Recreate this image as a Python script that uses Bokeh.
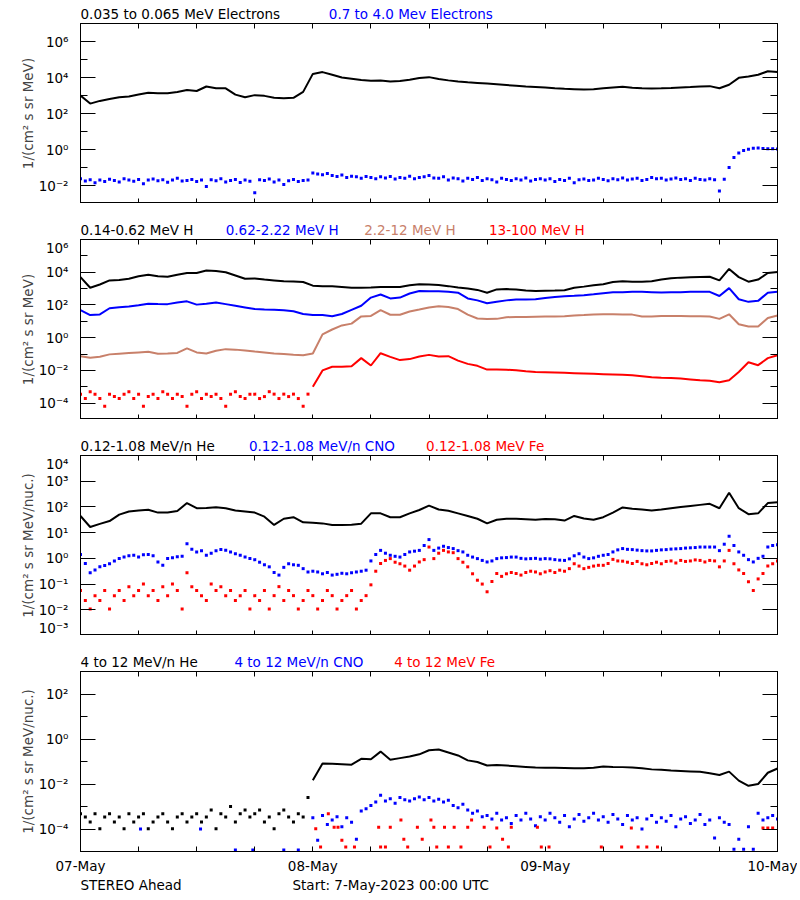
import numpy as np
from bokeh.plotting import figure
from bokeh.layouts import column
from bokeh.models import (Range1d, LinearAxis, LogAxis, FixedTicker, CustomJSTickFormatter, ColumnDataSource)
from bokeh.core.properties import value
from bokeh.embed import file_html
from bokeh.resources import INLINE

FONT = "DejaVu Sans"
FS = "13.5px"
BLACK, BLUE, BROWN, RED = "#000000", "#0000ff", "#c8806a", "#ff0000"

# ---------------- time axes (hours since 7-May-2023 00:00 UTC) ----------------
t_hr = np.arange(0, 73)              # hourly samples 0..72 h
t_half = np.arange(0, 145) * 0.5     # half-hourly samples 0..72 h
t_half_pre = np.arange(0, 48) * 0.5  # half-hourly 0..23.5 h
t_hr_post = np.arange(24, 73)        # hourly 24..72 h
t_half_post = 24 + np.arange(0, 97) * 0.5  # half-hourly 24..72 h

day_ticks = [0, 24, 48, 72]
day_labels = ["07-May", "08-May", "09-May", "10-May"]
six_hour_ticks = [6, 12, 18, 30, 36, 42, 54, 60, 66]

# ---------------- Panel 1: electrons (log10 flux) ----------------
elec_035_065_log = [
    3.0, 2.55, 2.7, 2.8, 2.9, 2.95, 3.05, 3.15, 3.12, 3.13, 3.2, 3.3,
    3.25, 3.5, 3.4, 3.4, 3.05, 2.9, 3.02, 2.98, 2.88, 2.85, 2.87, 3.2,
    4.2, 4.3, 4.15, 4.0, 3.93, 3.86, 3.82, 3.83, 3.78, 3.8, 3.88, 3.97,
    4.02, 3.92, 3.84, 3.78, 3.73, 3.7, 3.66, 3.62, 3.58, 3.54, 3.5, 3.47,
    3.44, 3.4, 3.37, 3.35, 3.33, 3.35, 3.4, 3.45, 3.48, 3.43, 3.4, 3.39,
    3.4, 3.42, 3.45, 3.47, 3.5, 3.52, 3.4, 3.6, 3.98, 4.05, 4.15, 4.35,
    4.3]
elec_07_40_log = [
    -1.62, -1.75, -1.68, -1.85, -1.7, -1.78, -1.65, -1.72, -1.8, -1.62, -1.7, -1.76,
    -1.66, -1.9, -1.7, -1.64, -1.74, -1.68, -1.82, -1.7, -1.6, -1.75, -1.72, -1.66,
    -1.78, -1.7, -2.05, -1.68, -1.74, -1.62, -1.8, -1.72, -1.66, -1.84, -1.7, -1.76,
    -2.4, -1.68, -1.72, -1.64, -1.8, -1.7, -1.95, -1.74, -1.66, -1.78, -1.72, -1.7,
    -1.3, -1.36, -1.4, -1.34, -1.45, -1.5, -1.42, -1.55, -1.48, -1.52, -1.6, -1.5,
    -1.56, -1.62, -1.52, -1.58, -1.5, -1.64, -1.55, -1.6, -1.48, -1.62, -1.55, -1.52,
    -1.45, -1.58, -1.6, -1.52, -1.7, -1.58, -1.62, -1.75, -1.6, -1.66, -1.55, -1.72,
    -1.62, -1.68, -1.8, -1.6, -1.66, -1.72, -1.62, -1.7, -1.58, -1.75, -1.66, -1.62,
    -1.7, -1.62, -1.78, -1.66, -1.72, -1.6, -1.85, -1.68, -1.64, -1.72, -1.7, -1.6,
    -1.66, -1.74, -1.62, -1.68, -1.58, -1.7, -1.64, -1.6, -1.72, -1.66, -1.56, -1.62,
    -1.6, -1.7, -1.64, -1.58, -1.66, -1.62, -1.72, -1.6, -1.66, -1.7, -1.62, -1.68,
    -2.3, -1.65, -1.0, -0.45, -0.2, -0.06, 0.02, 0.07, 0.08, 0.05, 0.04, 0.04,
    0.03]

# ---------------- Panel 2: protons (log10 flux) ----------------
h_014_062_log = [
    3.7, 3.05, 3.25, 3.5, 3.52, 3.6, 3.75, 3.85, 3.75, 3.72, 3.85, 3.95,
    3.95, 4.1, 4.08, 4.0, 3.8, 3.6, 3.62, 3.55, 3.5, 3.45, 3.43, 3.4,
    3.18, 3.14, 3.14, 3.1, 3.05, 3.05, 3.07, 3.1, 3.1, 3.1, 3.2, 3.27,
    3.25, 3.22, 3.15, 3.06, 3.0, 2.92, 2.75, 2.95, 2.97, 2.95, 2.88, 2.85,
    2.87, 2.88, 2.9, 3.05, 3.12, 3.2, 3.27, 3.4, 3.45, 3.42, 3.42, 3.45,
    3.55, 3.63, 3.67, 3.7, 3.71, 3.72, 3.5, 4.2, 3.7, 3.42, 3.55, 3.95,
    4.02]
h_062_222_log = [
    1.68, 1.38, 1.42, 1.8, 1.86, 1.9, 1.98, 2.08, 2.06, 2.05, 2.15, 2.22,
    2.02, 2.08, 2.15, 2.05, 1.95, 1.85, 1.75, 1.72, 1.7, 1.68, 1.62, 1.45,
    1.38, 1.38, 1.31, 1.45, 1.7, 1.95, 2.45, 2.64, 2.4, 2.45, 2.7, 2.85,
    2.84, 2.83, 2.8, 2.75, 2.4, 2.28, 2.1, 2.2, 2.28, 2.33, 2.33, 2.35,
    2.43, 2.48, 2.53, 2.56, 2.6, 2.65, 2.72, 2.77, 2.78, 2.8, 2.8, 2.78,
    2.76, 2.77, 2.78, 2.8, 2.8, 2.8, 2.55, 3.03, 2.35, 2.19, 2.25, 2.75,
    2.8]
h_22_12_log = [
    -1.13, -1.22, -1.17, -1.02, -0.98, -0.94, -0.9, -0.86, -0.98, -0.97, -0.93, -0.65,
    -0.9, -0.97, -0.8, -0.7, -0.73, -0.78, -0.85, -0.9, -0.96, -1.0, -1.04, -1.07,
    -0.97, 0.2, 0.5, 0.75, 0.86, 1.3, 1.33, 1.68, 1.4, 1.4, 1.6, 1.72,
    1.85, 1.92, 1.88, 1.75, 1.41, 1.17, 1.14, 1.15, 1.25, 1.27, 1.27, 1.28,
    1.29, 1.3, 1.31, 1.35, 1.38, 1.42, 1.43, 1.43, 1.42, 1.41, 1.3, 1.3,
    1.33, 1.32, 1.32, 1.31, 1.31, 1.3, 1.15, 1.43, 0.82, 0.68, 0.68, 1.2,
    1.35]
h_13_100_pre_log = [
    -3.45, -3.72, -3.3, -3.45, -3.72, -4.19, -3.45, -3.6, -3.72, -3.45, -3.3, -3.72,
    -3.45, -4.19, -3.6, -3.45, -3.72, -3.3, -3.45, -3.72, -3.45, -3.6, -4.19, -3.45,
    -3.3, -3.72, -3.45, -3.6, -3.45, -3.72, -4.19, -3.45, -3.3, -3.6, -3.72, -3.45,
    -3.45, -3.72, -3.6, -3.3, -3.45, -3.72, -3.45, -3.6, -3.45, -3.72, -4.19, -3.45]
h_13_100_post_log = [
    -3.0, -2.0, -1.78, -1.78, -1.75, -1.25, -1.7, -0.95, -1.17, -1.37, -1.31, -1.15,
    -1.05, -1.15, -1.13, -1.4, -1.6, -1.72, -1.95, -1.95, -1.96, -1.99, -2.05, -2.09,
    -2.11, -2.13, -2.15, -2.17, -2.19, -2.21, -2.23, -2.25, -2.27, -2.29, -2.35, -2.42,
    -2.45, -2.47, -2.5, -2.55, -2.6, -2.63, -2.72, -2.6, -2.1, -1.5, -1.68, -1.25,
    -1.07]

# ---------------- Panel 3: 0.12-1.08 MeV/n ions (log10 flux) ----------------
he_low_log = [
    1.65, 1.22, 1.34, 1.45, 1.7, 1.82, 1.86, 1.89, 1.78, 1.78, 1.84, 2.15,
    1.95, 1.96, 1.99, 1.95, 1.86, 1.82, 1.78, 1.62, 1.3, 1.54, 1.6, 1.4,
    1.38, 1.36, 1.3, 1.3, 1.31, 1.35, 1.75, 1.75, 1.6, 1.6, 1.75, 1.88,
    2.05, 1.9, 1.85, 1.75, 1.65, 1.54, 1.36, 1.5, 1.54, 1.54, 1.52, 1.5,
    1.53, 1.52, 1.47, 1.65, 1.55, 1.5, 1.6, 1.78, 1.98, 1.93, 1.9, 1.86,
    1.9, 1.95, 2.0, 2.04, 2.08, 2.12, 1.95, 2.55, 1.95, 1.72, 1.75, 2.15,
    2.18]
cno_low_log = [
    0.15, -0.2, -0.56, -0.45, -0.33, -0.28, -0.21, -0.1, -0.01, 0.05, 0.1, 0.12,
    0.05, 0.14, 0.15, 0.1, -0.14, -0.27, -0.01, 0.02, 0.06, 0.08, 0.57, 0.35,
    0.25, 0.3, 0.12, 0.2, 0.3, 0.34, 0.32, 0.25, 0.18, 0.12, 0.05, -0.01,
    -0.05, -0.15, -0.25, -0.33, -0.55, -0.65, -0.35, -0.21, -0.25, -0.27, -0.4, -0.53,
    -0.5, -0.53, -0.6, -0.55, -0.65, -0.62, -0.58, -0.6, -0.56, -0.53, -0.5, -0.46,
    -0.1, 0.15, 0.31, 0.2, 0.12, 0.08, 0.05, 0.15, 0.25, 0.28, 0.31, 0.5,
    0.73, 0.31, 0.4, 0.47, 0.42, 0.38, 0.3, 0.25, 0.12, 0.05, -0.01, -0.08,
    -0.14, -0.1, -0.01, 0.02, 0.03, 0.05, 0.05, 0.0, -0.02, -0.01, 0.0, -0.03,
    -0.01, -0.02, -0.05, -0.07, -0.08, -0.02, 0.1, 0.18, 0.05, -0.01, 0.02, 0.08,
    0.12, 0.15, 0.25, 0.33, 0.38, 0.35, 0.34, 0.32, 0.3, 0.29, 0.29, 0.31,
    0.33, 0.34, 0.36, 0.37, 0.38, 0.4, 0.41, 0.42, 0.44, 0.44, 0.44, 0.44,
    0.3, 0.55, 0.86, 0.5, 0.25, 0.12, -0.05, -0.14, 0.0, 0.08, 0.44, 0.5,
    0.53]
fe_low_log = [
    -1.25, -1.64, -1.97, -1.45, -1.64, -1.25, -1.97, -1.45, -1.25, -1.64, -1.1, -1.45,
    -1.25, -1.0, -1.45, -1.25, -1.64, -1.1, -1.45, -1.0, -1.25, -1.97, -0.56, -1.1,
    -1.25, -1.45, -1.64, -1.0, -1.25, -1.1, -1.45, -1.25, -1.64, -1.45, -1.25, -1.97,
    -1.45, -1.64, -1.25, -1.97, -1.45, -1.1, -1.64, -1.25, -1.45, -1.97, -1.64, -1.25,
    -1.45, -1.97, -1.64, -1.25, -1.45, -1.97, -1.64, -1.45, -1.25, -1.97, -1.64, -1.45,
    -1.03, -0.5, -0.2, -0.08, -0.01, -0.15, -0.21, -0.3, -0.46, -0.3, -0.14, -0.05,
    0.44, -0.01, 0.2, 0.31, 0.25, 0.22, -0.01, -0.15, -0.33, -0.6, -0.85, -1.0,
    -1.3, -0.9, -0.59, -0.7, -0.6, -0.55, -0.59, -0.65, -0.55, -0.5, -0.53, -0.6,
    -0.53, -0.48, -0.55, -0.46, -0.5, -0.4, -0.21, -0.3, -0.4, -0.35, -0.3, -0.27,
    -0.27, -0.2, -0.04, -0.1, -0.11, -0.15, -0.2, -0.12, -0.21, -0.25, -0.2, -0.15,
    -0.21, -0.12, -0.1, -0.18, -0.08, -0.12, -0.1, -0.06, -0.08, -0.14, -0.08, -0.1,
    -0.33, -0.1, 0.31, -0.21, -0.45, -0.59, -0.91, -1.25, -0.8, -0.59, -0.3, -0.21,
    -0.1]

# ---------------- Panel 4: 4-12 MeV/n ions (log10 flux) ----------------
he_high_pre_log = [
    -3.32, -3.47, -3.69, -3.32, -3.99, -3.47, -3.32, -3.69, -3.47, -3.99, -3.32, -3.69,
    -3.47, -3.32, -3.99, -3.69, -3.47, -3.32, -3.69, -3.99, -3.47, -3.32, -3.69, -3.47,
    -3.32, -3.69, -3.47, -3.15, -3.99, -3.32, -3.47, -3.0, -3.69, -3.32, -3.15, -3.47,
    -3.32, -3.15, -3.69, -3.47, -3.99, -3.32, -3.15, -3.47, -3.69, -3.32, -3.47, -2.6]
he_high_post_log = [
    -1.83, -1.09, -1.1, -1.12, -1.14, -0.88, -0.9, -0.56, -0.92, -0.85, -0.78, -0.68,
    -0.5, -0.47, -0.6, -0.73, -0.95, -1.02, -1.18, -1.16, -1.18, -1.21, -1.24, -1.27,
    -1.28, -1.28, -1.29, -1.3, -1.3, -1.28, -1.22, -1.24, -1.25, -1.27, -1.3, -1.35,
    -1.37, -1.4, -1.42, -1.44, -1.46, -1.52, -1.6, -1.45, -1.85, -2.08, -2.0, -1.5,
    -1.31]
cno_high_pre_t = [6.2, 12.4, 16.0, 17.8, 21.0, 22.5]
cno_high_pre_log = [-4.0, -4.0, -4.93, -4.93, -4.93, -4.93]
cno_high_post_log = [
    -3.5, -4.5, -3.4, -3.8, -3.6, -3.45, -3.9, -3.5, -3.7, -4.46, -3.2, -3.1,
    -2.95, -2.8, -2.5, -2.75, -2.65, -2.85, -2.6, -2.7, -2.75, -2.65, -2.58, -2.7,
    -2.6, -2.75, -2.68, -2.8, -2.72, -2.95, -3.05, -2.9, -3.15, -3.3, -3.2, -3.45,
    -3.4, -3.55, -3.3, -3.6, -3.5, -3.75, -3.4, -3.6, -3.3, -3.55, -3.85, -3.45,
    -3.6, -3.3, -3.5, -3.7, -3.4, -3.9, -3.55, -3.35, -3.65, -3.5, -3.3, -3.6,
    -3.45, -3.7, -3.35, -3.55, -3.8, -3.4, -3.6, -3.5, -4.0, -3.55, -3.4, -3.7,
    -3.5, -3.65, -3.4, -3.9, -3.55, -3.45, -3.75, -3.6, -3.35, -3.8, -3.6, -4.4,
    -3.5, -3.7, -3.8, -4.9, -4.45, -4.9, -3.9, -4.9, -3.3, -3.6, -3.5, -3.4,
    -3.55]
fe_high_t = [24.3, 24.8, 25.6, 26.2, 26.6, 27.0, 27.4, 28.3, 30.8, 31.0, 31.5, 32.0,
             33.1, 33.4, 33.8, 34.8, 35.3, 36.2, 36.5, 36.8, 37.6, 38.0, 38.6, 39.3,
             40.0, 40.4, 41.7, 42.3, 43.0, 43.6, 44.2, 44.5, 47.2, 47.6, 48.4, 53.8,
             55.9, 56.9, 57.6, 58.5, 59.6, 70.5, 71.0, 71.5]
fe_high_log = [-3.99, -4.8, -3.32, -3.92, -3.92, -4.5, -4.8, -4.8, -3.92, -4.8, -4.8, -3.92,
               -3.6, -4.46, -4.8, -3.92, -4.46, -3.6, -3.92, -4.8, -3.92, -4.8, -3.92, -4.8,
               -3.92, -3.6, -3.92, -4.8, -3.95, -4.46, -4.8, -3.92, -3.92, -4.8, -4.8, -4.8,
               -4.8, -3.95, -4.8, -4.8, -4.8, -3.95, -3.95, -3.95]

# ---------------- header / footer texts ----------------
titles1 = [(0, "0.035 to 0.065 MeV Electrons", BLACK), (25.65, "0.7 to 4.0 Mev Electrons", BLUE)]
titles2 = [(0, "0.14-0.62 MeV H", BLACK), (15.0, "0.62-2.22 MeV H", BLUE),
           (29.3, "2.2-12 MeV H", BROWN), (42.2, "13-100 MeV H", RED)]
titles3 = [(0, "0.12-1.08 MeV/n He", BLACK), (17.4, "0.12-1.08 MeV/n CNO", BLUE),
           (35.7, "0.12-1.08 MeV Fe", RED)]
titles4 = [(0, "4 to 12 MeV/n He", BLACK), (15.9, "4 to 12 MeV/n CNO", BLUE),
           (32.4, "4 to 12 MeV Fe", RED)]
footer_texts = [(0, "STEREO Ahead", BLACK), (21.9, "Start:  7-May-2023 00:00 UTC", BLACK)]


def flux(a):
    return [10.0 ** v for v in a]


LEFT, RIGHT, FW, FH = 80, 20, 697, 180

SUP = CustomJSTickFormatter(code="""
const e = Math.round(Math.log10(tick));
const m = {'-':'\u207b','0':'\u2070','1':'\u00b9','2':'\u00b2','3':'\u00b3','4':'\u2074',
           '5':'\u2075','6':'\u2076','7':'\u2077','8':'\u2078','9':'\u2079'};
return '10' + String(e).split('').map(c => m[c]).join('');
""")
BLANK = CustomJSTickFormatter(code="return '';")


def text_strip(items, height, center):
    h = figure(frame_width=FW, frame_height=height, x_range=Range1d(0, 72), y_range=Range1d(0, height),
               x_axis_location=None, y_axis_location=None, output_backend="svg", toolbar_location=None,
               min_border_left=LEFT, min_border_right=RIGHT, min_border_top=0, min_border_bottom=0)
    h.outline_line_color = None
    h.xgrid.visible = False
    h.ygrid.visible = False
    src = ColumnDataSource(dict(x=[i[0] for i in items], y=[center] * len(items),
                                text=[i[1] for i in items], color=[i[2] for i in items]))
    h.text(x="x", y="y", text="text", text_color="color", source=src,
           text_font=value(FONT), text_font_size=value(FS),
           text_baseline="middle", text_align="left")
    return h


def style_axis(ax, tin, minin, labels=True):
    ax.major_tick_in = tin
    ax.major_tick_out = 0
    ax.minor_tick_in = minin
    ax.minor_tick_out = 0
    ax.axis_line_color = "black"
    ax.major_tick_line_color = "black"
    ax.minor_tick_line_color = "black"
    ax.major_label_text_font = FONT
    ax.major_label_text_font_size = FS
    ax.major_label_text_color = "black"
    if not labels:
        ax.major_label_text_font_size = "0px"
        ax.major_label_standoff = 0


def make_panel(dec_lo, dec_hi, major_exp, minor_exp, ylabel, bottom=False):
    p = figure(frame_width=FW, frame_height=FH,
               x_range=Range1d(0, 72), y_range=Range1d(10.0 ** dec_lo, 10.0 ** dec_hi),
               y_axis_type="log", x_axis_location=None, y_axis_location=None,
               output_backend="svg", toolbar_location=None,
               min_border_left=LEFT, min_border_right=RIGHT, min_border_top=0,
               min_border_bottom=22 if bottom else 0)
    p.xgrid.visible = False
    p.ygrid.visible = False
    p.outline_line_color = "black"
    p.outline_line_alpha = 1.0

    left = LogAxis(ticker=FixedTicker(ticks=[10.0 ** e for e in major_exp],
                                      minor_ticks=[10.0 ** e for e in minor_exp]),
                   formatter=SUP, axis_label=ylabel)
    style_axis(left, 15, 7)
    left.major_label_standoff = 12
    left.axis_label_text_font = FONT
    left.axis_label_text_font_size = FS
    left.axis_label_text_font_style = "normal"
    left.axis_label_standoff = 0
    p.add_layout(left, "left")
    right = LogAxis(ticker=FixedTicker(ticks=[10.0 ** e for e in major_exp],
                                       minor_ticks=[10.0 ** e for e in minor_exp]), formatter=BLANK)
    style_axis(right, 15, 7, labels=False)
    p.add_layout(right, "right")

    xb = LinearAxis(ticker=FixedTicker(ticks=day_ticks, minor_ticks=six_hour_ticks))
    style_axis(xb, 5, 5, labels=bottom)
    if bottom:
        xb.major_label_overrides = {t: s for t, s in zip(day_ticks, day_labels)}
        xb.major_label_standoff = 6
    else:
        xb.formatter = BLANK
    p.add_layout(xb, "below")
    xt = LinearAxis(ticker=FixedTicker(ticks=day_ticks, minor_ticks=six_hour_ticks), formatter=BLANK)
    style_axis(xt, 5, 5, labels=False)
    p.add_layout(xt, "above")
    return p


# Panel 1
p1 = make_panel(-3, 7, [-2, 0, 2, 4, 6], [-1, 1, 3, 5], "1/(cm\u00b2 s sr MeV)")
p1.line(t_hr, flux(elec_035_065_log), line_color=BLACK, line_width=2)
p1.scatter(t_half, flux(elec_07_40_log), marker="square", size=3, color=BLUE, line_width=0)

# Panel 2
p2 = make_panel(-5, 6, [-4, -2, 0, 2, 4, 6], [-5, -3, -1, 1, 3, 5], "1/(cm\u00b2 s sr MeV)")
p2.line(t_hr, flux(h_014_062_log), line_color=BLACK, line_width=2)
p2.line(t_hr, flux(h_062_222_log), line_color=BLUE, line_width=2)
p2.line(t_hr, flux(h_22_12_log), line_color=BROWN, line_width=2)
p2.scatter(t_half_pre, flux(h_13_100_pre_log), marker="square", size=3, color=RED, line_width=0)
p2.line(t_hr_post, flux(h_13_100_post_log), line_color=RED, line_width=2)

# Panel 3
p3 = make_panel(-3, 4, [-3, -2, -1, 0, 1, 2, 3, 4], [], "1/(cm\u00b2 s sr MeV/nuc.)")
p3.line(t_hr, flux(he_low_log), line_color=BLACK, line_width=2)
p3.scatter(t_half, flux(cno_low_log), marker="square", size=3, color=BLUE, line_width=0)
p3.scatter(t_half, flux(fe_low_log), marker="square", size=3, color=RED, line_width=0)

# Panel 4
p4 = make_panel(-5, 3, [-4, -2, 0, 2], [-5, -3, -1, 1, 3], "1/(cm\u00b2 s sr MeV/nuc.)", bottom=True)
p4.scatter(t_half_pre, flux(he_high_pre_log), marker="square", size=3, color=BLACK, line_width=0)
p4.line(t_hr_post, flux(he_high_post_log), line_color=BLACK, line_width=2)
p4.scatter(cno_high_pre_t, flux(cno_high_pre_log), marker="square", size=3, color=BLUE, line_width=0)
p4.scatter(t_half_post, flux(cno_high_post_log), marker="square", size=3, color=BLUE, line_width=0)
p4.scatter(fe_high_t, flux(fe_high_log), marker="square", size=3, color=RED, line_width=0)

h1 = text_strip(titles1, 23, 10)
h2 = text_strip(titles2, 36, 10)
h3 = text_strip(titles3, 36, 10)
h4 = text_strip(titles4, 36, 10)
foot = text_strip(footer_texts, 26, 17.8)

layout = column(h1, p1, h2, p2, h3, p3, h4, p4, foot, spacing=0)
open("out.html", "w").write(file_html(layout, INLINE))
